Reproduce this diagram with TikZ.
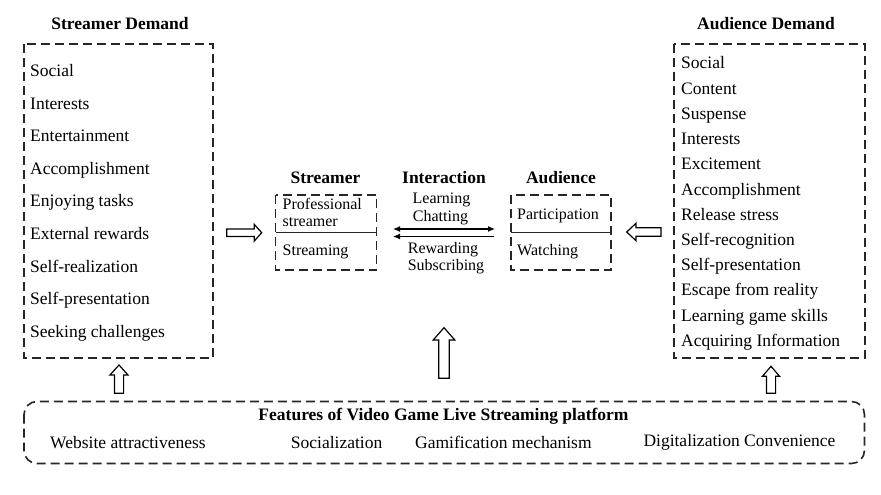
\documentclass[tikz,border=0pt]{standalone}
\usepackage{fontspec}
\setmainfont{Liberation Serif}
\usetikzlibrary{arrows.meta}
\begin{document}
\begin{tikzpicture}[x=1pt,y=-1pt,
  dashbox/.style={draw=black!85, line width=1.6pt, dash pattern=on 9pt off 5pt},
  divline/.style={draw=black!85, line width=1.5pt},
  listtxt/.style={anchor=base west, inner sep=0pt, font=\fontsize{17.5}{20}\selectfont},
  midtxt/.style={anchor=base west, inner sep=0pt, font=\fontsize{16}{18}\selectfont},
  ctrtxt/.style={anchor=base, inner sep=0pt, font=\fontsize{16}{18}\selectfont},
  bottxt/.style={anchor=base west, inner sep=0pt, font=\fontsize{17.5}{20}\selectfont},
  ttl/.style={anchor=base, inner sep=0pt, font=\bfseries\fontsize{17.5}{20}\selectfont},
  blockarrow/.style={draw=black, line width=1.2pt, fill=white, line join=miter},
  thinarrow/.style={line width=1.1pt},
  pics/hollow/.style n args={4}{code={\draw[blockarrow] (0,-#3) -- ({#1-#2},-#3) -- ({#1-#2},-#4) -- (#1,0) -- ({#1-#2},#4) -- ({#1-#2},#3) -- (0,#3) -- cycle;}}
]
\useasboundingbox (0,0) rectangle (881,495);

% ---------- Streamer demand ----------
\node[ttl] (sdt) at (120,30) {Streamer Demand};
\draw[dashbox] (24,44) rectangle (213,358);
\node[listtxt] (s1) at (30,76.5) {Social};
\node[listtxt] (s2) at (30,109.1) {Interests};
\node[listtxt] (s3) at (30,141.7) {Entertainment};
\node[listtxt] (s4) at (30,174.3) {Accomplishment};
\node[listtxt] (s5) at (30,206.9) {Enjoying tasks};
\node[listtxt] (s6) at (30,239.5) {External rewards};
\node[listtxt] (s7) at (30,272.1) {Self-realization};
\node[listtxt] (s8) at (30,304.7) {Self-presentation};
\node[listtxt] (s9) at (30,337.3) {Seeking challenges};

% ---------- Audience demand ----------
\node[ttl] (adt) at (766,30) {Audience Demand};
\draw[dashbox] (674,44) rectangle (865,358);
\node[listtxt] (a1) at (681,69) {Social};
\node[listtxt] (a2) at (681,94.2) {Content};
\node[listtxt] (a3) at (681,119.4) {Suspense};
\node[listtxt] (a4) at (681,144.6) {Interests};
\node[listtxt] (a5) at (681,169.8) {Excitement};
\node[listtxt] (a6) at (681,195) {Accomplishment};
\node[listtxt] (a7) at (681,220.2) {Release stress};
\node[listtxt] (a8) at (681,245.4) {Self-recognition};
\node[listtxt] (a9) at (681,270.6) {Self-presentation};
\node[listtxt] (a10) at (681,295.8) {Escape from reality};
\node[listtxt] (a11) at (681,321) {Learning game skills};
\node[listtxt] (a12) at (681,346.2) {Acquiring Information};

% ---------- Centre ----------
\node[ttl] (stt) at (325.5,183) {Streamer};
\node[ttl] (itt) at (444,183) {Interaction};
\node[ttl] (aut) at (561,183) {Audience};

\draw[dashbox] (275.5,195) rectangle (376.5,270);
\draw[divline] (275.5,232.5) -- (376.5,232.5);
\node[midtxt] (ps1) at (282.5,209.5) {Professional};
\node[midtxt] (ps2) at (282.5,226.5) {streamer};
\node[midtxt] (sg) at (282.5,255) {Streaming};

\draw[dashbox] (511,195) rectangle (611,270);
\draw[divline] (511,232.5) -- (611,232.5);
\node[midtxt] (pa) at (517,219) {Participation};
\node[midtxt] (wa) at (517,255.5) {Watching};

\node[ctrtxt] (le) at (441.5,203) {Learning};
\node[ctrtxt] (ch) at (440.5,221.5) {Chatting};
\node[ctrtxt] (rw) at (443,253.5) {Rewarding};
\node[ctrtxt] (sb) at (446,270) {Subscribing};

\coordinate (i1l) at (393,229);
\coordinate (i1r) at (495,229);
\coordinate (i2l) at (393,236.5);
\coordinate (i2r) at (494,236.5);
\draw[thinarrow, {Latex[length=7pt,width=6pt]}-{Latex[length=7pt,width=6pt]}] (i1l) -- (i1r);
\draw[thinarrow, -{Latex[length=7pt,width=6pt]}] (i2r) -- (i2l);

% ---------- Block arrows ----------
\pic at (226.7,232.7) {hollow={35}{7.5}{3.7}{8.4}};
\pic[rotate=180] at (661,232) {hollow={34.3}{9.3}{4.2}{8.7}};
\pic[rotate=90] at (444,378.3) {hollow={50.6}{12.3}{5.2}{10.8}};
\pic[rotate=90] at (119,393.3) {hollow={28.3}{10}{4.6}{9}};
\pic[rotate=90] at (771,393.3) {hollow={27}{10}{4.6}{8.6}};

% ---------- Platform features ----------
\draw[dashbox, rounded corners=13pt] (24,401.5) rectangle (864.5,463.5);
\node[ttl] (ft) at (443.5,420) {Features of Video Game Live Streaming platform};
\node[bottxt] (f1) at (50,448) {Website attractiveness};
\node[bottxt] (f2) at (290.7,448) {Socialization};
\node[bottxt] (f3) at (415,448) {Gamification mechanism};
\node[bottxt] (f4) at (643.3,446) {Digitalization Convenience};
\end{tikzpicture}
\end{document}
